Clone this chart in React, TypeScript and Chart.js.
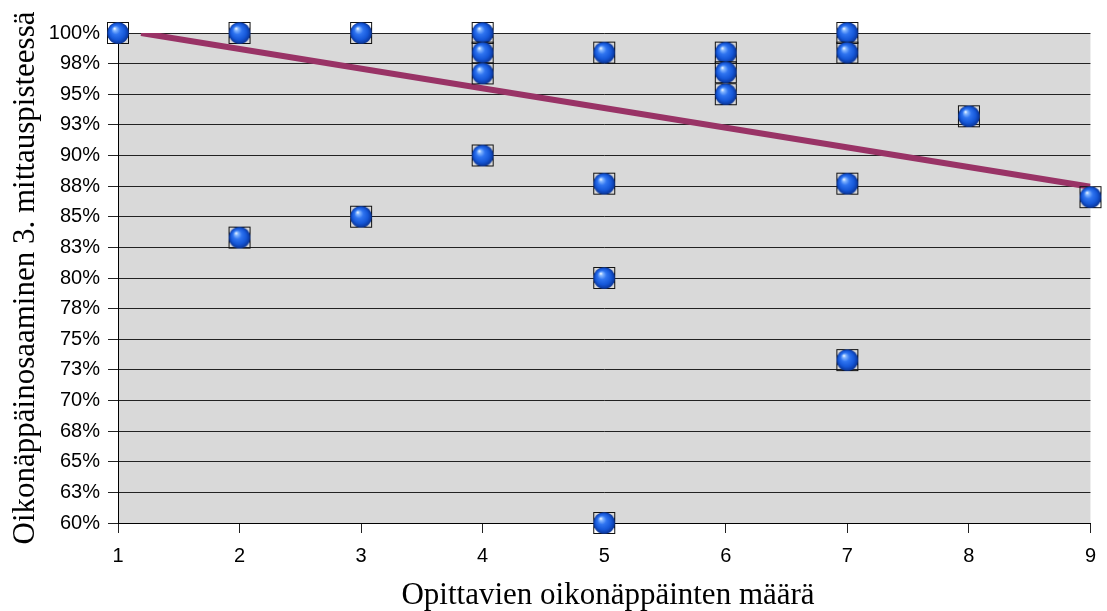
import { useEffect, useRef } from 'react';
import { Chart, registerables } from 'chart.js';

Chart.register(...registerables);

// Number of keys learned and key-mastery score at the 3rd measurement point
const keyCounts = [1, 2, 2, 3, 3, 4, 4, 4, 4, 5, 5, 5, 5, 6, 6, 6, 7, 7, 7, 7, 8, 9];
const masteryPct = [100, 100, 83.3, 100, 85, 100, 98.4, 96.7, 90, 98.4, 87.7, 80, 60, 98.4, 96.8, 95, 100, 98.4, 87.7, 73.3, 93.2, 86.6];

// Linear trend line endpoints (cut off at the 100 % ceiling)
const trendKeys = [1.19, 9];
const trendPct = [100, 87.45];

const xTickValues = [1, 2, 3, 4, 5, 6, 7, 8, 9];
const yTickValues = [60, 62.5, 65, 67.5, 70, 72.5, 75, 77.5, 80, 82.5, 85, 87.5, 90, 92.5, 95, 97.5, 100];
const yTickLabels = ['60%', '63%', '65%', '68%', '70%', '73%', '75%', '78%', '80%', '83%', '85%', '88%', '90%', '93%', '95%', '98%', '100%'];

const xTitle = 'Opittavien oikonäppäinten määrä';
const yTitle = 'Oikonäppäinosaaminen 3. mittauspisteessä';

function makeSphereMarker(): HTMLCanvasElement {
  const c = document.createElement('canvas');
  c.width = 26;
  c.height = 26;
  const g = c.getContext('2d')!;
  // square frame
  g.strokeStyle = '#111';
  g.lineWidth = 1;
  g.strokeRect(2.5, 2.5, 21, 21);
  // glossy blue ball
  const cx = 13, cy = 13, r = 10.8;
  const grad = g.createRadialGradient(cx - 3.5, cy - 4.5, 0.5, cx, cy, r);
  grad.addColorStop(0, '#e8f2ff');
  grad.addColorStop(0.12, '#86b8ff');
  grad.addColorStop(0.38, '#2f74f0');
  grad.addColorStop(0.72, '#1557d8');
  grad.addColorStop(1, '#0a3496');
  g.fillStyle = grad;
  g.beginPath();
  g.arc(cx, cy, r, 0, Math.PI * 2);
  g.fill();
  return c;
}

const plotBackground = {
  id: 'plotBackground',
  beforeDraw(chart: any) {
    const { ctx, chartArea } = chart;
    ctx.save();
    ctx.fillStyle = '#d9d9d9';
    ctx.fillRect(chartArea.left, chartArea.top, chartArea.right - chartArea.left, chartArea.bottom - chartArea.top);
    ctx.restore();
  },
};

const axisTitles = {
  id: 'axisTitles',
  afterDraw(chart: any) {
    const { ctx, chartArea } = chart;
    ctx.save();
    ctx.fillStyle = '#000';
    ctx.font = '31px "Liberation Serif", serif';
    ctx.textAlign = 'center';
    ctx.textBaseline = 'alphabetic';
    ctx.fillText(xTitle, 608, 604);
    ctx.translate(34, (chartArea.top + chartArea.bottom) / 2);
    ctx.rotate(-Math.PI / 2);
    ctx.fillText(yTitle, 0, 0);
    ctx.restore();
  },
};

export default function App() {
  const canvasRef = useRef<HTMLCanvasElement | null>(null);

  useEffect(() => {
    const canvas = canvasRef.current;
    if (!canvas) return;
    const marker = makeSphereMarker();
    const tickFont = { family: '"Liberation Sans", Arial, sans-serif', size: 20 };

    const chart = new Chart(canvas, {
      type: 'scatter',
      data: {
        datasets: [
          {
            label: 'Oikonäppäinosaaminen',
            data: keyCounts.map((x, i) => ({ x, y: masteryPct[i] })),
            pointStyle: marker as any,
            pointRadius: 11,
            order: 0,
            clip: false as any,
          },
          {
            label: 'Trendi',
            type: 'line',
            data: trendKeys.map((x, i) => ({ x, y: trendPct[i] })),
            borderColor: '#993366',
            borderWidth: 6,
            pointRadius: 0,
            showLine: true,
            fill: false,
            order: 1,
          } as any,
        ],
      },
      options: {
        responsive: false,
        animation: false,
        devicePixelRatio: 1,
        layout: { padding: { top: 33, right: 15, left: 0, bottom: 0 } },
        plugins: { legend: { display: false }, tooltip: { enabled: false } },
        scales: {
          x: {
            type: 'linear',
            min: 1,
            max: 9,
            afterBuildTicks: (s: any) => {
              s.ticks = xTickValues.map((v) => ({ value: v }));
            },
            afterFit: (s: any) => {
              s.height = 88;
            },
            ticks: { font: tickFont, color: '#000', padding: 11 },
            grid: { drawOnChartArea: false, drawTicks: true, tickLength: 10, color: '#222' },
            border: { display: true, color: '#000', width: 1 },
          },
          y: {
            type: 'linear',
            min: 60,
            max: 100,
            afterBuildTicks: (s: any) => {
              s.ticks = yTickValues.map((v) => ({ value: v }));
            },
            afterFit: (s: any) => {
              s.width = 118;
            },
            ticks: {
              font: tickFont,
              color: '#000',
              padding: 8,
              callback: (_v: any, i: number) => yTickLabels[i],
            },
            grid: { tickLength: 10, color: '#222', lineWidth: 1 },
            border: { display: true, color: '#000', width: 1 },
          },
        },
      },
      plugins: [plotBackground, axisTitles],
    });

    return () => chart.destroy();
  }, []);

  return (
    <div style={{ position: 'absolute', left: 0, top: 0, width: 1107, height: 611 }}>
      <canvas ref={canvasRef} width={1107} height={611} />
    </div>
  );
}
